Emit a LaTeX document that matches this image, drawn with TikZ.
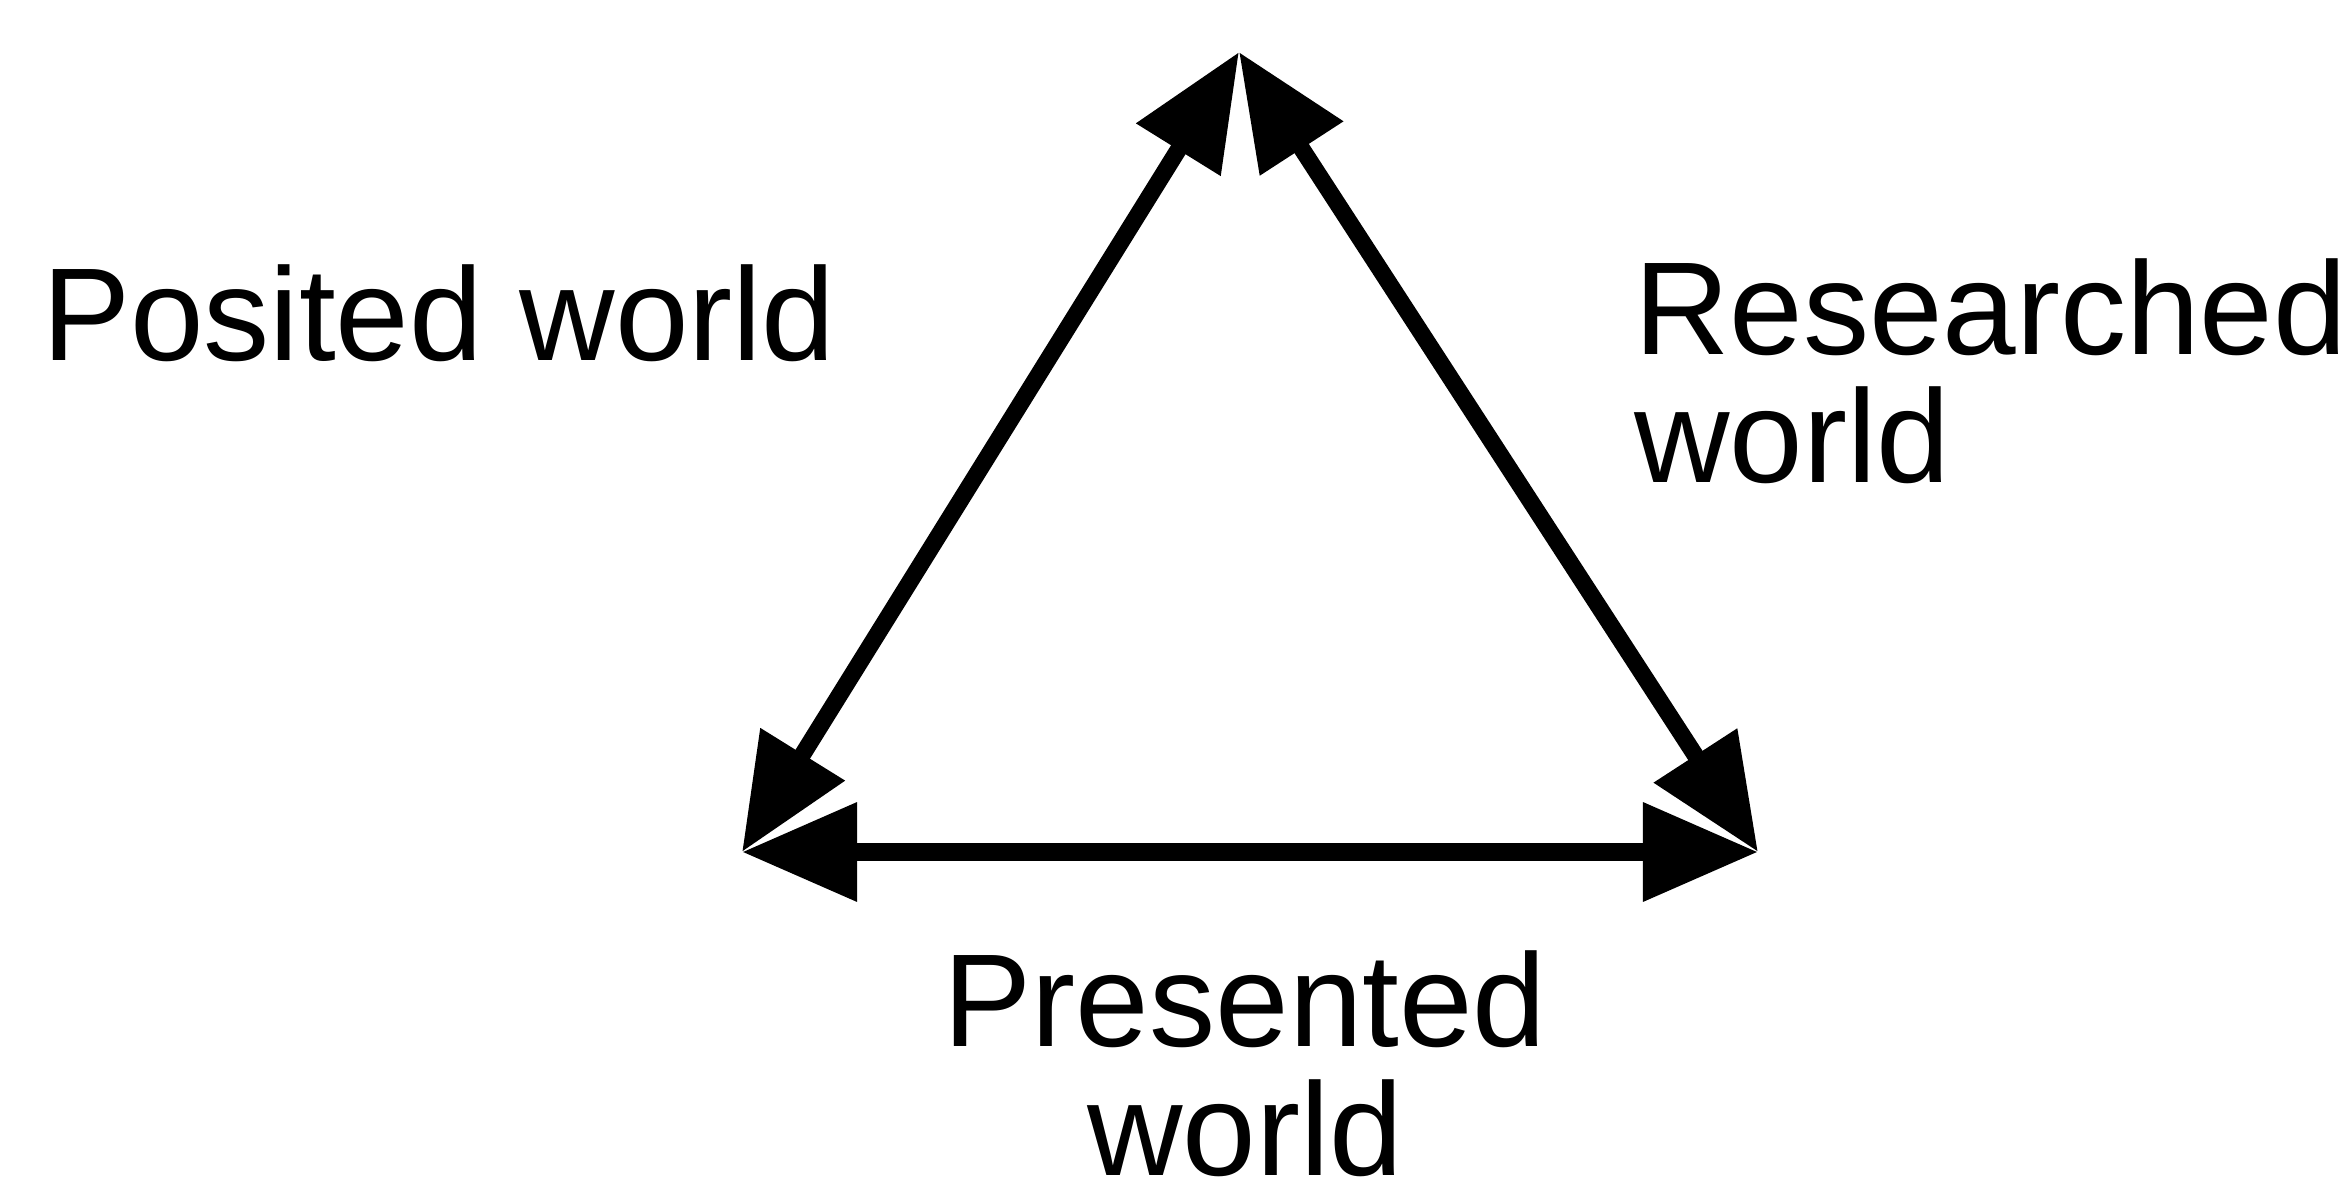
\documentclass[tikz,border=0pt]{standalone}
\usepackage{fontspec}
\setmainfont{Liberation Sans}
\usetikzlibrary{arrows.meta}
\begin{document}
\begin{tikzpicture}[x=0.01cm,y=-0.01cm,
  conn/.style={line width=0.17cm, {Triangle[length=1.15cm,width=0.95cm]}-{Triangle[length=1.15cm,width=0.95cm]}},
  lbl/.style={inner sep=0pt, outer sep=0pt, font=\fontsize{37.6pt}{36.4pt}\selectfont}]
\useasboundingbox (0,0) rectangle (2349,1189);
\coordinate (T) at (1239,52);
\coordinate (BL) at (742,852);
\coordinate (BR) at (1758,852);
\draw[conn] (T) -- (BL);
\draw[conn] (T) -- (BR);
\draw[conn] (BL) -- (BR);
\node[lbl, anchor=base west] (posited) at (42,361) {Posited world};
\node[lbl, anchor=base west, align=left] (researched) at (1634,483) {Researched\\world};
\node[lbl, anchor=base, align=center, text depth=0pt, font=\fontsize{37.6pt}{36.6pt}\selectfont] (presented) at (1245,1175) {Presented\\world};
\end{tikzpicture}
\end{document}
